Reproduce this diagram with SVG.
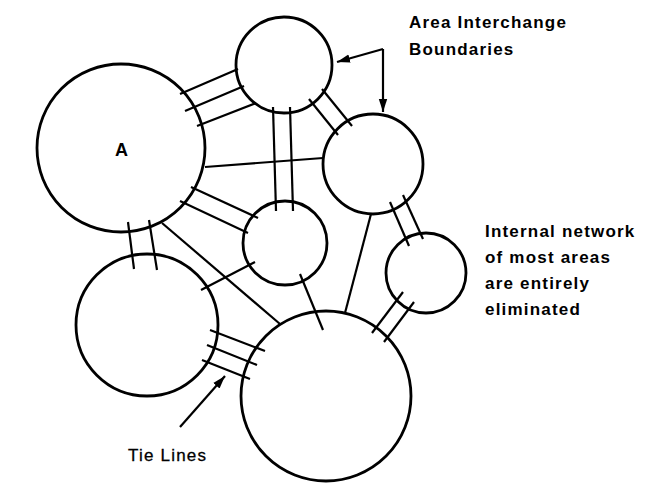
<svg xmlns="http://www.w3.org/2000/svg" width="648" height="503" viewBox="0 0 648 503">
<style>
.area{fill:none;stroke:#000;stroke-width:2.8}
.ln{stroke:#000;stroke-width:2.2;fill:none;stroke-linecap:butt}
.lbl{font-family:"Liberation Sans",Arial,sans-serif;font-weight:bold;font-size:17px;letter-spacing:1.2px;fill:#000}
.reg{font-family:"Liberation Sans",Arial,sans-serif;font-size:17px;letter-spacing:1.2px;fill:#000;stroke:#000;stroke-width:0.3}
</style>
<defs>
<marker id="ah" markerUnits="userSpaceOnUse" markerWidth="14" markerHeight="10" refX="13" refY="5" orient="auto">
<path d="M0,0.8 L13,5 L0,9.2 Z" fill="#000"/>
</marker>
</defs>
<rect width="648" height="503" fill="#fff"/>
<g id="areaA"><circle class="area" cx="121" cy="148" r="84"/><text x="121.5" y="156" text-anchor="middle" class="lbl" style="font-size:18px;letter-spacing:0">A</text></g>
<g id="areaT"><circle class="area" cx="284" cy="65" r="48"/></g>
<g id="areaR"><circle class="area" cx="373" cy="164" r="50"/></g>
<g id="areaC"><circle class="area" cx="285" cy="243" r="42"/></g>
<g id="areaS"><circle class="area" cx="426" cy="273" r="40"/></g>
<g id="areaBL"><circle class="area" cx="147" cy="325" r="71"/></g>
<g id="areaB"><circle class="area" cx="326" cy="396" r="85"/></g>
<g id="connectors">
<line class="ln" x1="180" y1="94" x2="238" y2="69"/>
<line class="ln" x1="185" y1="111" x2="244" y2="86"/>
<line class="ln" x1="197" y1="126" x2="256" y2="103"/>
<line class="ln" x1="205" y1="167" x2="323" y2="158"/>
<line class="ln" x1="273" y1="107" x2="276" y2="211"/>
<line class="ln" x1="290" y1="107" x2="293" y2="211"/>
<line class="ln" x1="309" y1="99" x2="338" y2="135"/>
<line class="ln" x1="322" y1="89" x2="352" y2="126"/>
<line class="ln" x1="191" y1="187" x2="258" y2="218"/>
<line class="ln" x1="180" y1="201" x2="248" y2="233"/>
<line class="ln" x1="128" y1="222" x2="134" y2="269"/>
<line class="ln" x1="149" y1="220" x2="157" y2="270"/>
<line class="ln" x1="162" y1="223" x2="280" y2="324"/>
<line class="ln" x1="201" y1="290" x2="255" y2="262"/>
<line class="ln" x1="210" y1="330" x2="265" y2="351"/>
<line class="ln" x1="207" y1="345" x2="257" y2="365"/>
<line class="ln" x1="202" y1="360" x2="250" y2="379"/>
<line class="ln" x1="300" y1="274" x2="323" y2="330"/>
<line class="ln" x1="371" y1="214" x2="345" y2="313"/>
<line class="ln" x1="390" y1="202" x2="409" y2="246"/>
<line class="ln" x1="403" y1="195" x2="423" y2="239"/>
<line class="ln" x1="372" y1="333" x2="403" y2="292"/>
<line class="ln" x1="384" y1="342" x2="414" y2="302"/>
</g>
<g id="callouts">
<line class="ln" x1="383" y1="49" x2="337" y2="62" marker-end="url(#ah)"/>
<line class="ln" x1="383" y1="49" x2="383" y2="112" marker-end="url(#ah)"/>
<line class="ln" x1="180" y1="427" x2="225" y2="376" marker-end="url(#ah)"/>
<text class="lbl" x="409" y="28">Area Interchange</text>
<text class="lbl" x="409" y="55">Boundaries</text>
<text class="lbl" x="485" y="237">Internal network</text>
<text class="lbl" x="485" y="263">of most areas</text>
<text class="lbl" x="485" y="289">are entirely</text>
<text class="lbl" x="485" y="315">eliminated</text>
<text class="reg" x="128" y="461">Tie Lines</text>
</g>
</svg>
